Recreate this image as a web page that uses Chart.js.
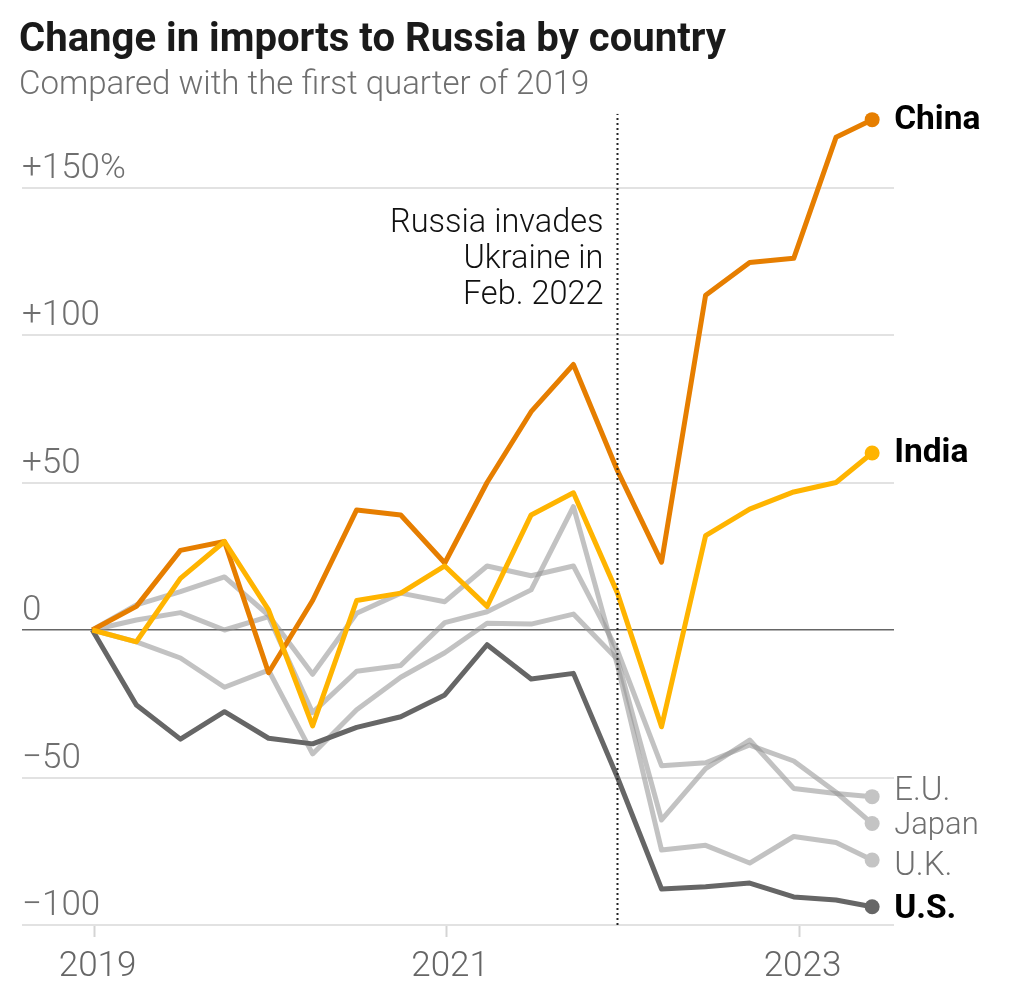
<!DOCTYPE html>
<html>
<head>
<meta charset="utf-8">
<title>Change in imports to Russia by country</title>
<script src="https://cdn.jsdelivr.net/npm/chart.js@4/dist/chart.umd.min.js"></script>
<style>
  html, body { margin: 0; padding: 0; background: #fff; }
  #wrap { position: relative; width: 1024px; height: 997px; overflow: hidden; }
  #title { position: absolute; left: 19px; top: 14px; font: 700 40.1px Roboto, sans-serif; color: #1a1a1a; white-space: nowrap; }
  #subtitle { position: absolute; left: 19px; top: 63px; font: 300 33px Roboto, sans-serif; color: #6f6f6f; white-space: nowrap; }
  #chart-wrapper { position: absolute; left: 0; top: 0; width: 1024px; height: 997px; }
</style>
</head>
<body>
<div id="wrap">
  <div id="chart-wrapper"><canvas id="myChart"></canvas></div>
  <div id="title">Change in imports to Russia by country</div>
  <div id="subtitle">Compared with the first quarter of 2019</div>
</div>
<script>
// quarters as decimal years
var quarters = [2018.99, 2019.24, 2019.49, 2019.74, 2019.99, 2020.24, 2020.49, 2020.74, 2020.99,
                2021.23, 2021.48, 2021.72, 2021.97, 2022.22, 2022.47, 2022.72, 2022.97, 2023.21, 2023.415];

var china = [0, 8, 27, 30, -14.5, 10, 40.7, 39, 22.7, 50, 74, 90, 54, 23, 113.5, 124.6, 126, 167, 173];
var india = [0, -4, 17.5, 30, 6.8, -32.5, 10, 12.5, 21.7, 8, 39, 46.5, 12.5, -32.8, 32, 41, 46.8, 50, 60];
var us = [0, -25.4, -37, -27.7, -36.7, -38.6, -33, -29.4, -22, -5, -16.6, -14.7, -50, -87.8, -87, -85.8, -90.5, -91.5, -93.8];
var japan = [0, 8.5, 13, 18, 5, -15, 5.7, 12.5, 9.6, 21.7, 18.4, 21.7, -7, -46, -45, -39, -44.4, -55, -65.6];
var uk = [0, 3.4, 5.9, 0, 4.5, -28, -14, -12, 2.5, 6.2, 13.6, 41.8, -12, -74.6, -73, -79, -70, -72, -78];
var eu = [0, -4, -9.5, -19.4, -13.6, -42, -27, -16, -7.7, 2.3, 2, 5.4, -10, -64.4, -47, -37.3, -53.7, -55.4, -56.5];

var yTicks = [-100, -50, 0, 50, 100, 150];
var yTickLabels = ['\u2212100', '\u221250', '0', '+50', '+100', '+150%'];
var xTicks = [2019, 2021, 2023];
var invasion = 2021.97;
var invasionNote = ['Russia invades', 'Ukraine in', 'Feb. 2022'];

var GREY_LINE = 'rgba(150,150,150,0.58)';
var GREY_DOT = '#c4c4c4';
var LIGHT = '300 33px Roboto, sans-serif';
var NARROW = '300 31px Roboto, sans-serif';
var BOLD = '700 33.5px Roboto, sans-serif';

function series(name, values, line, dot, labelFont, labelColor, labelShift) {
  return {
    label: name,
    data: values.map(function (v, i) { return { x: quarters[i], y: v }; }),
    borderColor: line,
    borderWidth: 5,
    borderJoinStyle: 'round',
    clip: false,
    pointBackgroundColor: dot,
    pointBorderWidth: 0,
    pointRadius: function (ctx) { return ctx.dataIndex === values.length - 1 ? 7.5 : 0; },
    labelFont: labelFont,
    labelColor: labelColor,
    labelShift: labelShift
  };
}

// first dataset ends up on top
var datasets = [
  {
    label: 'invasion',
    data: [{ x: invasion, y: -100 }, { x: invasion, y: 175 }],
    borderColor: '#222',
    borderWidth: 2,
    borderDash: [2, 3],
    pointRadius: 0
  },
  series('India', india, '#ffb400', '#ffb400', BOLD, '#000', 1),
  series('China', china, '#e67e00', '#e67e00', BOLD, '#000', 1),
  series('U.S.', us, '#666666', '#666666', BOLD, '#000', 3),
  series('Japan', japan, GREY_LINE, GREY_DOT, NARROW, '#6f6f6f', 3),
  series('U.K.', uk, GREY_LINE, GREY_DOT, LIGHT, '#6f6f6f', 7),
  series('E.U.', eu, GREY_LINE, GREY_DOT, LIGHT, '#6f6f6f', -5)
];

// end labels and the note beside the dotted line
var textPlugin = {
  id: 'chartText',
  afterDatasetsDraw: function (chart) {
    var c = chart.ctx;
    c.save();
    c.textBaseline = 'middle';
    c.textAlign = 'left';
    chart.data.datasets.forEach(function (ds, i) {
      if (!ds.labelFont) return;
      var pts = chart.getDatasetMeta(i).data;
      var p = pts[pts.length - 1];
      c.font = ds.labelFont;
      c.fillStyle = ds.labelColor;
      c.fillText(ds.label, p.x + 22, p.y + ds.labelShift);
    });
    c.textAlign = 'right';
    c.font = '300 32.5px Roboto, sans-serif';
    c.fillStyle = '#111';
    var x = chart.scales.x.getPixelForValue(invasion) - 14;
    invasionNote.forEach(function (line, i) {
      c.fillText(line, x, chart.scales.y.getPixelForValue(137.7) + i * 36);
    });
    c.restore();
  }
};

new Chart(document.getElementById('myChart'), {
  type: 'line',
  data: { datasets: datasets },
  plugins: [textPlugin],
  options: {
    responsive: true,
    maintainAspectRatio: false,
    animation: false,
    devicePixelRatio: 1,
    layout: { padding: { left: 22, right: 130, top: 113.75, bottom: 0 } },
    plugins: { legend: { display: false }, tooltip: { enabled: false } },
    elements: { line: { tension: 0 } },
    scales: {
      x: {
        type: 'linear',
        min: 2018.591,
        max: 2023.539,
        afterBuildTicks: function (scale) {
          scale.ticks = xTicks.map(function (v) { return { value: v }; });
        },
        border: { display: false },
        grid: { drawOnChartArea: false, tickLength: 12, tickColor: '#d4d4d4', tickWidth: 2 },
        ticks: {
          autoSkip: false,
          maxRotation: 0,
          padding: 9,
          labelOffset: 3.5,
          color: '#666',
          font: { family: 'Roboto, sans-serif', weight: '300', size: 35 },
          callback: function (v) { return String(v); }
        }
      },
      y: {
        min: -100,
        max: 175,
        afterBuildTicks: function (scale) {
          scale.ticks = yTicks.map(function (v) { return { value: v }; });
        },
        border: { display: false },
        grid: {
          drawTicks: false,
          color: function (ctx) { return ctx.tick && ctx.tick.value === 0 ? '#666' : '#e2e2e2'; },
          lineWidth: function (ctx) { return ctx.tick && ctx.tick.value === 0 ? 1.5 : 2; }
        },
        ticks: {
          mirror: true,
          padding: 0,
          labelOffset: -18.5,
          color: '#6f6f6f',
          font: { family: 'Roboto, sans-serif', weight: '300', size: 35 },
          callback: function (v) { return yTickLabels[yTicks.indexOf(v)]; }
        }
      }
    }
  }
});
</script>
</body>
</html>
